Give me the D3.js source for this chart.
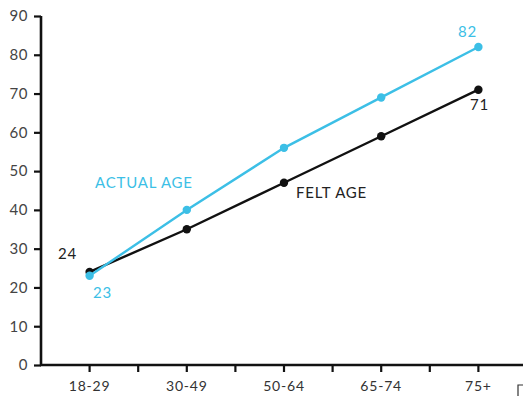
<!DOCTYPE html>
<html><head><meta charset="utf-8">
<script src="https://cdn.jsdelivr.net/npm/d3@7"></script>
<style>
html,body{margin:0;padding:0;background:#fff;}
text{font-family:"Lato","Open Sans",sans-serif;}
</style></head>
<body><svg id="c" width="523" height="396"></svg>
<script>
const categories = ["18-29","30-49","50-64","65-74","75+"];
const actualAge = [23,40,56,69,82];
const feltAge = [24,35,47,59,71];
const yTicks = [0,10,20,30,40,50,60,70,80,90];

const svg = d3.select("#c");
const x = d3.scaleBand().domain(categories).range([41, 527]);
const y = d3.scaleLinear().domain([0,90]).range([365, 16]);
const cx = d => x(d) + x.bandwidth()/2;
const cyan = "#3cbfe6", blk = "#111";

// y axis
const ya = svg.append("g").attr("transform","translate(41,0)")
  .call(d3.axisLeft(y).tickValues(yTicks).tickSize(7).tickPadding(6));
ya.select(".domain").attr("stroke","#111").attr("stroke-width",2.6).attr("d","M0,16V366");
ya.selectAll(".tick line").attr("stroke","#111").attr("stroke-width",2.2);
ya.selectAll(".tick text").attr("font-size",15).attr("fill","#444").attr("letter-spacing",0.6);

// x axis
const xa = svg.append("g").attr("transform","translate(0,365)")
  .call(d3.axisBottom(x).tickSize(7).tickPadding(9));
xa.select(".domain").attr("stroke","#111").attr("stroke-width",2.6).attr("d","M40,0H523");
xa.selectAll(".tick line").attr("stroke","#111").attr("stroke-width",2.2);
xa.selectAll(".tick text").attr("font-size",14).attr("fill","#333").attr("letter-spacing",0.8);
// band edge ticks
const edges = categories.map(c => x(c));
svg.append("g").selectAll("line").data(edges.slice(1)).join("line")
  .attr("x1",d=>d).attr("x2",d=>d).attr("y1",365).attr("y2",372)
  .attr("stroke","#111").attr("stroke-width",2.2);

// small artifact at bottom right
svg.append("path").attr("d","M518,396V385H523").attr("fill","none").attr("stroke","#333").attr("stroke-width",1.2);

const line = d3.line().x((d,i)=>cx(categories[i])).y(d=>y(d));
function series(vals, col){
  svg.append("path").datum(vals).attr("d",line).attr("fill","none")
    .attr("stroke",col).attr("stroke-width",2.4);
  svg.append("g").selectAll("circle").data(vals).join("circle")
    .attr("cx",(d,i)=>cx(categories[i])).attr("cy",d=>y(d)).attr("r",4.2).attr("fill",col);
}
series(feltAge, blk);
series(actualAge, cyan);

// labels
function lab(t, xp, yp, col, anchor){
  svg.append("text").attr("x",xp).attr("y",yp).attr("fill",col).attr("font-size",15)
    .attr("letter-spacing",0.8).attr("text-anchor",anchor||"middle").text(t);
}
lab(feltAge[0], cx(categories[0])-22, y(feltAge[0])-13, "#222");
lab(actualAge[0], cx(categories[0])+13, y(actualAge[0])+22, cyan);
lab(actualAge[4], cx(categories[4])-11, y(actualAge[4])-10, cyan);
lab(feltAge[4], cx(categories[4])+1, y(feltAge[4])+20, "#222");
lab("ACTUAL AGE", 95, 188, cyan, "start");
lab("FELT AGE", 296, 198, "#222", "start");
</script></body></html>
